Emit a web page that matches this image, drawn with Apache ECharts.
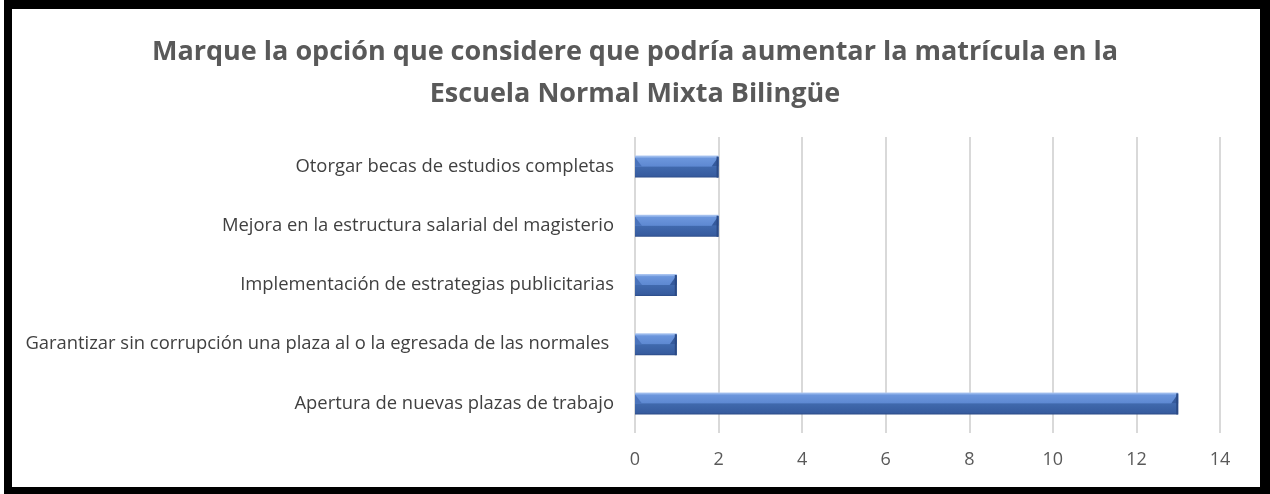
<!DOCTYPE html>
<html>
<head>
<meta charset="utf-8">
<script src="https://cdn.jsdelivr.net/npm/echarts@6/dist/echarts.min.js"></script>
<style>
html, body { margin: 0; padding: 0; background: #fff; }
#frame {
	position: absolute; left: 4px; top: 0; width: 1266px; height: 494px;
	box-sizing: border-box; border-style: solid; border-color: #000;
	border-width: 9px 10px 7px 8px; background: #fff;
}
#main { position: absolute; left: 0; top: 0; width: 1270px; height: 494px; }
</style>
</head>
<body>
<div id="frame"></div>
<div id="main"></div>
<script>
// categorias de abajo hacia arriba
var categories = [
	'Apertura de nuevas plazas de trabajo',
	'Garantizar sin corrupción una plaza al o la egresada de las normales ',
	'Implementación de estrategias publicitarias',
	'Mejora en la estructura salarial del magisterio',
	'Otorgar becas de estudios completas'
];
var values = [13, 1, 1, 2, 2];
var xTicks = [0, 2, 4, 6, 8, 10, 12, 14];

var titleText = 'Marque la opción que considere que podría aumentar la matrícula en la\nEscuela Normal Mixta Bilingüe';

// barra con bisel (estilo 3D de Excel)
function bevelBar(params, api){
	var v = api.value(1);
	var c = api.value(0);
	var p0 = api.coord([0, c]);
	var p1 = api.coord([v, c]);
	var h = 22, b = 7;
	var x0 = p0[0], x1 = p1[0];
	var y0 = p0[1] - h / 2, y1 = p0[1] + h / 2, ym = p0[1];
	return {
		type: 'group',
		children: [
			{
				type: 'rect',
				shape: {x: x0, y: y0, width: x1 - x0, height: h},
				style: {
					fill: new echarts.graphic.LinearGradient(0, 0, 0, 1, [
						{offset: 0, color: '#b3cbf2'},
						{offset: 0.08, color: '#8aaee8'},
						{offset: 0.12, color: '#6c96dc'},
						{offset: 0.48, color: '#5e89d2'},
						{offset: 0.52, color: '#4069ad'},
						{offset: 0.92, color: '#375c9f'},
						{offset: 1, color: '#2c4b87'}
					])
				}
			},
			{
				type: 'polygon',
				shape: {points: [[x0, y0 + 2], [x0 + b, ym], [x0, ym]]},
				style: {fill: '#4a73bb'}
			},
			{
				type: 'polygon',
				shape: {points: [[x1, y0 + 1], [x1 - b, ym], [x1, ym]]},
				style: {fill: '#355a9c'}
			},
			{
				type: 'rect',
				shape: {x: x1 - 2, y: y0 + 1, width: 2, height: h - 1},
				style: {fill: '#2b4a85'}
			}
		]
	};
}

function init(){
	var myChart = echarts.init(document.getElementById('main'), null, {renderer: 'canvas'});
	var barData = values.map(function(v, i){ return [i, v]; });
	var option = {
		backgroundColor: 'transparent',
		animation: false,
		title: {
			text: titleText,
			left: 'center',
			top: 26,
			textStyle: {
				fontFamily: 'Open Sans',
				fontWeight: 'bold',
				fontSize: 27,
				lineHeight: 42,
				color: '#595959'
			}
		},
		grid: { left: 635, right: 50, top: 137, bottom: 61, containLabel: false },
		xAxis: {
			type: 'value',
			min: xTicks[0],
			max: xTicks[xTicks.length - 1],
			interval: 2,
			axisLine: { show: false },
			axisTick: { show: false },
			splitLine: { lineStyle: { color: '#d9d9d9', width: 2 } },
			axisLabel: { color: '#595959', fontSize: 18, fontFamily: 'Open Sans', margin: 18 }
		},
		yAxis: {
			type: 'category',
			data: categories,
			axisLine: { show: false },
			axisTick: { show: false },
			axisLabel: { color: '#404040', fontSize: 18.4, fontFamily: 'Open Sans', margin: 21 }
		},
		series: [{
			type: 'custom',
			renderItem: bevelBar,
			encode: { x: 1, y: 0 },
			data: barData
		}]
	};
	myChart.setOption(option);
}
init();
</script>
</body>
</html>
